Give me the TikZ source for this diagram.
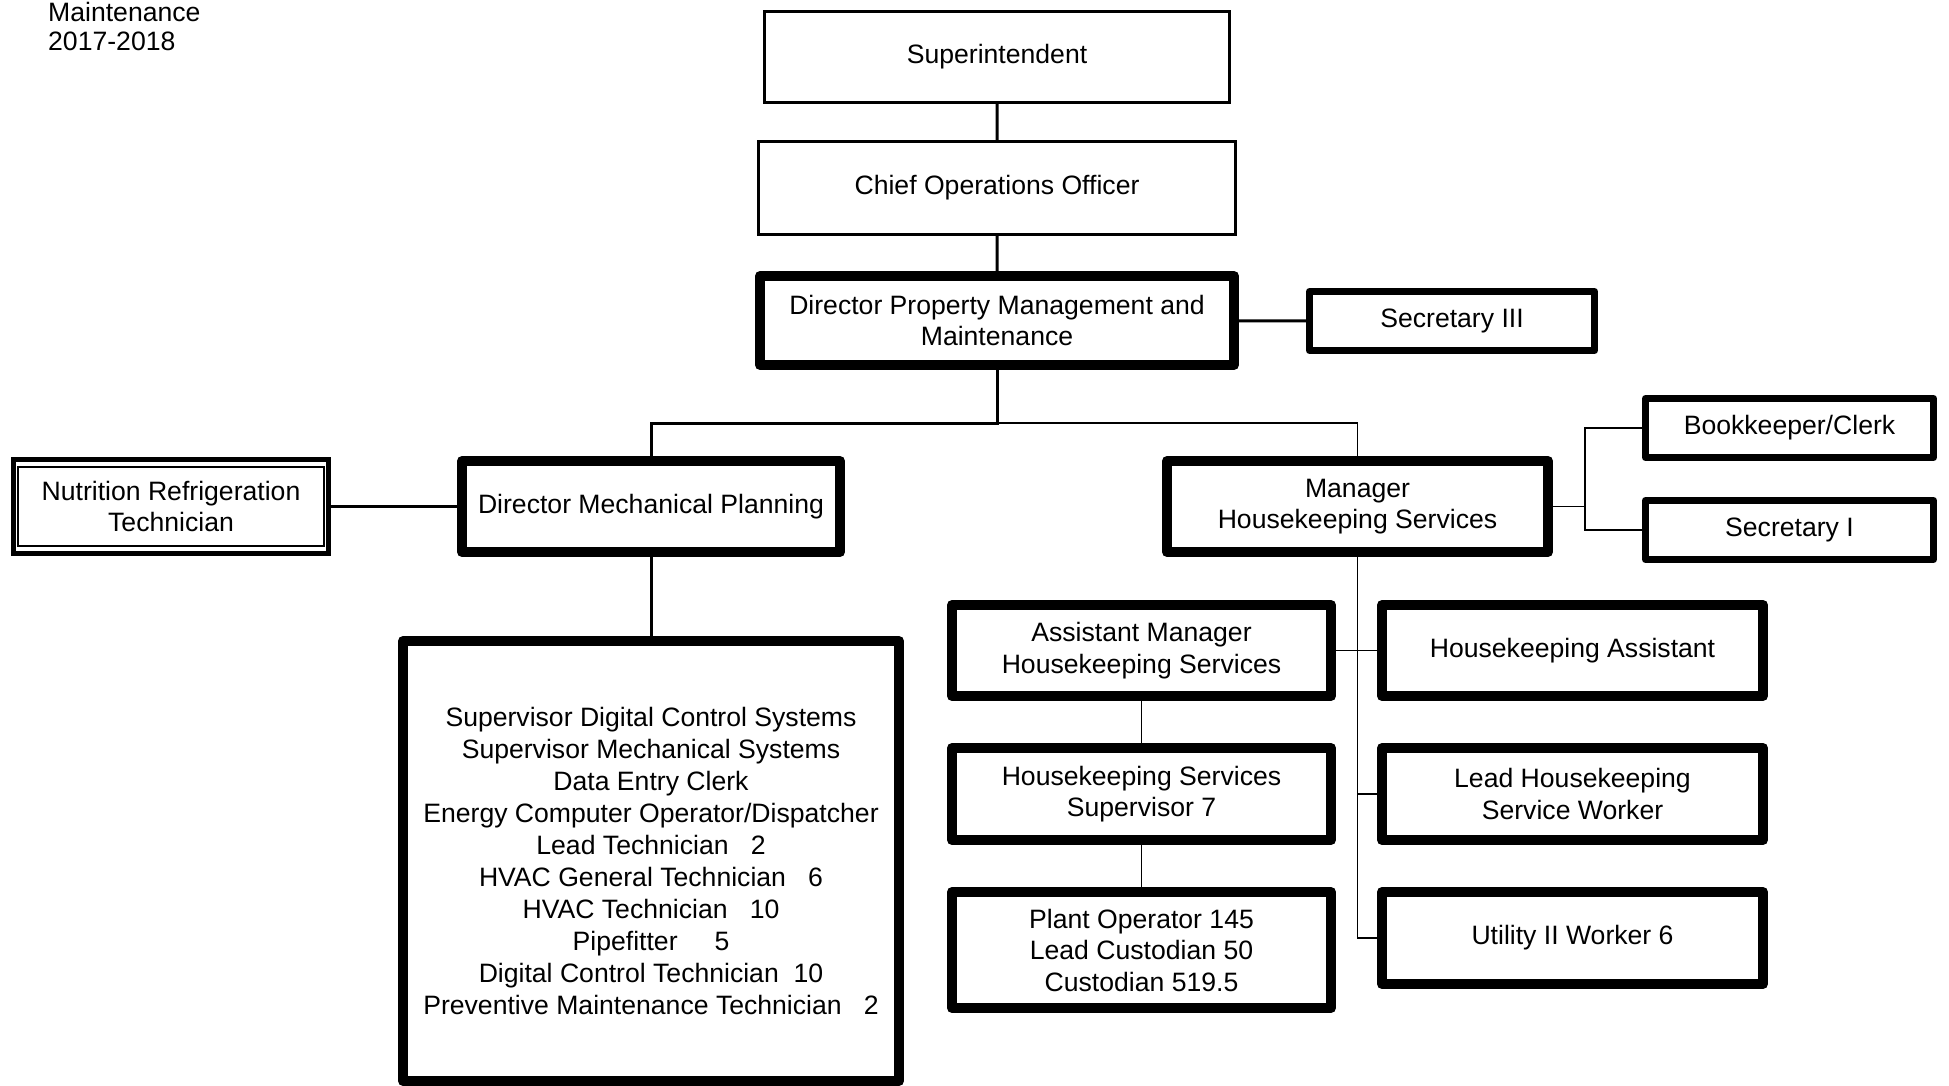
\documentclass[tikz,border=0pt]{standalone}
\usepackage{fontspec}
\setmainfont{Liberation Sans}
\usetikzlibrary{positioning}
\tikzstyle{plainbox}=[draw,line width=3pt,align=center,inner sep=0pt]
\tikzstyle{heavybox}=[draw,line width=10pt,line join=round,align=center,inner sep=0pt]
\tikzstyle{midbox}=[draw,line width=7pt,line join=round,align=center,inner sep=0pt]
\tikzstyle{link}=[line width=1.5pt]
\tikzstyle{heavylink}=[line width=3pt]

\begin{document}
\begin{tikzpicture}[x=1pt, y=-1pt, font=\fontsize{26.6}{31.5}\selectfont]
  \fill[white] (0,0) rectangle (1949,1085);
  \useasboundingbox (0,0) rectangle (1949,1085);

  \node[anchor=base west, inner sep=0pt] (ttlA) at (48,21) {Maintenance};
  \node[anchor=base west, inner sep=0pt] (ttlB) at (48,50) {2017-2018};

  % top of the chart
  \node[plainbox, minimum width=465pt, minimum height=91pt] (sup) at (997,57) {Superintendent};
  \node[plainbox, minimum width=477pt, minimum height=93pt] (coo) at (997,188) {Chief Operations Officer};
  \node[heavybox, minimum width=474pt, minimum height=89pt] (pmm) at (997,320.5) {Director Property Management and\\Maintenance};
  \node[midbox, minimum width=285pt, minimum height=59pt] (sec3) at (1452,321) {Secretary III};

  % mechanical side
  \node[heavybox, minimum width=378pt, minimum height=91pt] (dmp) at (651,506.5) {Director Mechanical Planning};
  \node[draw, line width=5pt, align=center, minimum width=315pt, minimum height=94pt] (nut) at (171,506.5) {Nutrition Refrigeration\\Technician};
  \node[heavybox, minimum width=496pt, minimum height=440pt, font=\fontsize{26.6}{32}\selectfont] (mech) at (651,861)
    {Supervisor Digital Control Systems\\
     Supervisor Mechanical Systems\\
     Data Entry Clerk\\
     Energy Computer Operator/Dispatcher\\
     Lead Technician\ \ \ 2\\
     HVAC General Technician\ \ \ 6\\
     HVAC Technician\ \ \ 10\\
     Pipefitter\ \ \ \ \ 5\\
     Digital Control Technician\ \ 10\\
     Preventive Maintenance Technician\ \ \ 2};

  % housekeeping side
  \node[heavybox, minimum width=381pt, minimum height=91pt] (mgr) at (1357.5,506.5) {Manager\\Housekeeping Services};
  \node[midbox, minimum width=288pt, minimum height=59pt] (bkc) at (1789.5,428) {Bookkeeper/Clerk};
  \node[midbox, minimum width=288pt, minimum height=59pt] (sec1) at (1789.5,530) {Secretary I};
  \node[heavybox, minimum width=379pt, minimum height=91pt] (asst) at (1141.5,650.5) {Assistant Manager\\Housekeeping Services};
  \node[heavybox, minimum width=379pt, minimum height=92pt] (hss) at (1141.5,794) {Housekeeping Services\\Supervisor 7};
  \node[heavybox, minimum width=379pt, minimum height=116pt] (plant) at (1141.5,950) {Plant Operator 145\\Lead Custodian 50\\Custodian 519.5};
  \node[heavybox, minimum width=381pt, minimum height=91pt] (hka) at (1572.5,650.5) {Housekeeping Assistant};
  \node[heavybox, minimum width=381pt, minimum height=92pt] (lhk) at (1572.5,794) {Lead Housekeeping\\Service Worker};
  \node[heavybox, minimum width=381pt, minimum height=92pt] (util) at (1572.5,938) {Utility II Worker 6};

  \coordinate (bus) at (997,423);
  \coordinate (fork) at (1585,506.5);

  \draw[heavylink] (sup) -- (coo) (coo) -- (pmm) (pmm) -- (sec3);
  \draw[heavylink] (pmm) -- (bus) -| (dmp) (nut) -- (dmp) (dmp) -- (mech);
  \draw[link] (bus) -| (mgr);
  \draw[link] (mgr) -- (fork) |- (bkc) (fork) |- (sec1);
  \draw[link] (mgr) |- (util) (mgr |- lhk) -- (lhk) (asst) -- (hka);
  \draw[link] (asst) -- (hss) (hss) -- (plant);

  % inner line of the double frame
  \draw[line width=1.5pt] ([xshift=7pt,yshift=-10pt]nut.north west) rectangle ([xshift=-7pt,yshift=10pt]nut.south east);
\end{tikzpicture}
\end{document}
